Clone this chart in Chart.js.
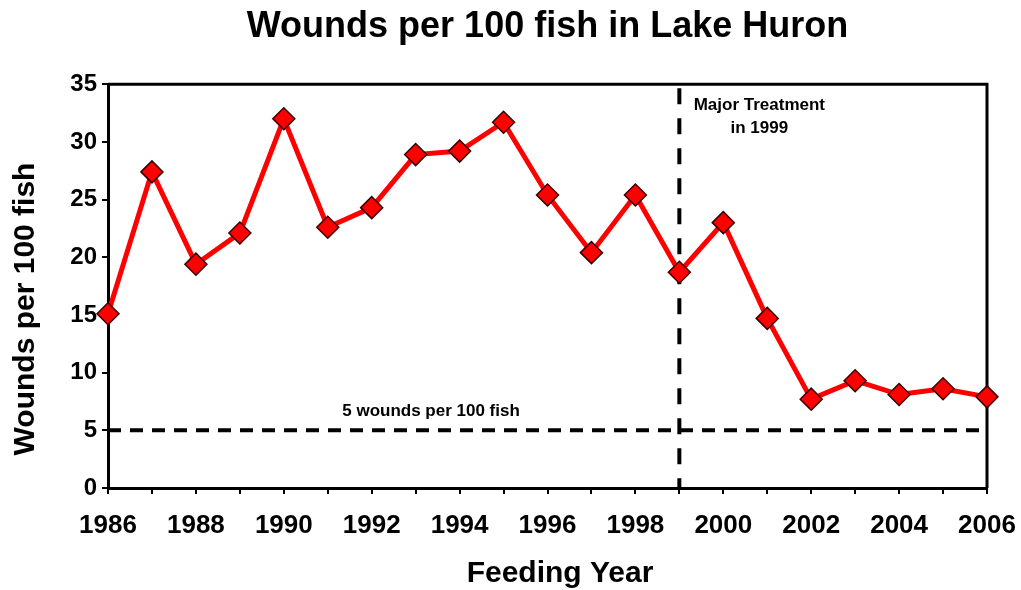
<!DOCTYPE html>
<html>
<head>
<meta charset="utf-8">
<script src="https://cdn.jsdelivr.net/npm/chart.js@4/dist/chart.umd.min.js"></script>
<style>
  body { margin: 0; background: #fff; }
  #wrap { width: 1021px; height: 590px; }
</style>
</head>
<body>
<div id="wrap"><canvas id="myChart"></canvas></div>
<script>
var years = [1986, 1987, 1988, 1989, 1990, 1991, 1992, 1993, 1994, 1995, 1996,
             1997, 1998, 1999, 2000, 2001, 2002, 2003, 2004, 2005, 2006];
var wounds = [15.1, 27.4, 19.4, 22.1, 32.0, 22.6, 24.3, 28.9, 29.2, 31.7, 25.4,
              20.4, 25.4, 18.7, 23.0, 14.7, 7.7, 9.3, 8.1, 8.6, 7.9];
var targetLevel = 5;
var treatmentYear = 1999;

var font = "'Liberation Sans', Arial, sans-serif";

// dashed reference lines, plot frame, axis titles and the two notes
var extras = {
    id: 'extras',
    beforeDatasetsDraw: function(chart) {
        var c = chart.ctx, a = chart.chartArea;
        var xs = chart.scales.x, ys = chart.scales.y;
        c.save();
        c.strokeStyle = '#000';
        c.lineWidth = 4;
        c.setLineDash([13, 9]);
        var y5 = ys.getPixelForValue(targetLevel);
        c.beginPath(); c.moveTo(a.left, y5); c.lineTo(a.right, y5); c.stroke();
        c.setLineDash([16, 14]);
        var xt = xs.getPixelForValue(treatmentYear);
        c.beginPath(); c.moveTo(xt, a.top + 4); c.lineTo(xt, a.bottom); c.stroke();
        c.setLineDash([]);
        c.lineWidth = 3;
        c.beginPath();
        c.moveTo(a.left, a.top); c.lineTo(a.right, a.top); c.lineTo(a.right, a.bottom);
        c.stroke();

        c.fillStyle = '#000';
        c.textAlign = 'center';
        c.textBaseline = 'middle';
        c.font = "bold 17px " + font;
        var xm = xs.getPixelForValue(treatmentYear + 1.82);
        c.fillText('Major Treatment', xm, ys.getPixelForValue(33.2));
        c.fillText('in 1999', xm, ys.getPixelForValue(31.2));

        c.font = "bold 17px " + font;
        c.fillText('5 wounds per 100 fish', xs.getPixelForValue(1993.35), ys.getPixelForValue(6.67));

        // axis titles
        c.font = "bold 30px " + font;
        c.fillText('Feeding Year', 560, 574);
        c.save();
        c.translate(26, 309);
        c.rotate(-Math.PI / 2);
        c.fillText('Wounds per 100 fish', 0, 0);
        c.restore();
        c.restore();
    }
};

var ctx = document.getElementById("myChart");
var myChart = new Chart(ctx, {
    type: 'line',
    data: {
        datasets: [{
            data: years.map(function(y, i) { return { x: y, y: wounds[i] }; }),
            borderColor: '#ff0000',
            borderWidth: 5,
            tension: 0,
            clip: false,
            pointStyle: 'rectRot',
            pointRadius: 11,
            pointBackgroundColor: '#ff0000',
            pointBorderColor: '#3a0000',
            pointBorderWidth: 1.5
        }]
    },
    options: {
        responsive: true,
        maintainAspectRatio: false,
        animation: false,
        layout: { padding: { left: 0, right: 34, top: 0, bottom: 0 } },
        plugins: {
            legend: { display: false },
            tooltip: { enabled: false },
            title: {
                display: true,
                fullSize: false,
                text: 'Wounds per 100 fish in Lake Huron',
                color: '#000',
                font: { family: font, size: 36, weight: 'bold' },
                padding: { top: 5, bottom: 36 }
            }
        },
        scales: {
            x: {
                type: 'linear',
                min: 1986,
                max: 2006,
                afterFit: function(s) { s.height = 102; s.paddingRight = 0; s.paddingLeft = 0; },
                ticks: {
                    stepSize: 1,
                    autoSkip: false,
                    maxRotation: 0,
                    color: '#000',
                    padding: 16,
                    font: { family: font, size: 26, weight: 'bold' },
                    callback: function(v) { return v % 2 === 0 ? String(v) : ''; }
                },
                grid: { drawOnChartArea: false, color: '#000', tickLength: 6, lineWidth: 2 },
                border: { color: '#000', width: 3 }
            },
            y: {
                min: 0,
                max: 35,
                afterFit: function(s) { s.width = 108; s.paddingTop = 0; s.paddingBottom = 0; },
                ticks: {
                    stepSize: 5,
                    color: '#000',
                    padding: 5,
                    font: { family: font, size: 24, weight: 'bold' }
                },
                grid: { drawOnChartArea: false, color: '#000', tickLength: 6, lineWidth: 2 },
                border: { color: '#000', width: 3 }
            }
        }
    },
    plugins: [extras]
});
</script>
</body>
</html>
